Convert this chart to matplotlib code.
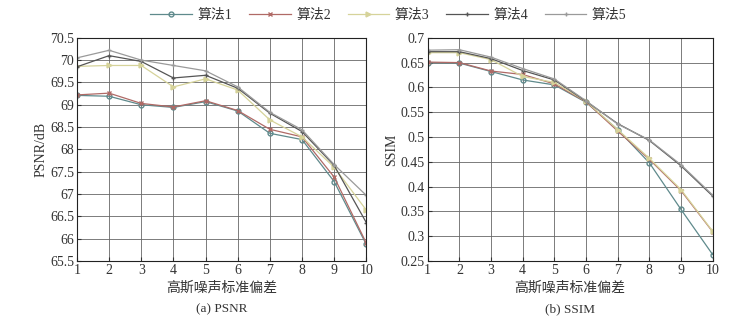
import numpy as np
import matplotlib
matplotlib.use('Agg')
import matplotlib.pyplot as plt

plt.rcParams['font.family'] = ['Liberation Serif', 'Noto Sans CJK SC']
plt.rcParams['axes.unicode_minus'] = False

x = np.arange(1, 11)
names = ['算法1', '算法2', '算法3', '算法4', '算法5']

psnr_1 = [69.21, 69.19, 69.00, 68.94, 69.07, 68.86, 68.36, 68.22, 67.28, 65.87]
psnr_2 = [69.22, 69.26, 69.03, 68.95, 69.09, 68.87, 68.45, 68.28, 67.38, 65.90]
psnr_3 = [69.86, 69.88, 69.88, 69.40, 69.58, 69.33, 68.66, 68.28, 67.60, 66.64]
psnr_4 = [69.85, 70.10, 69.97, 69.60, 69.66, 69.37, 68.81, 68.40, 67.64, 66.36]
psnr_5 = [70.05, 70.22, 70.00, 69.88, 69.76, 69.40, 68.83, 68.44, 67.66, 66.97]

ssim_1 = [0.650, 0.649, 0.632, 0.615, 0.605, 0.570, 0.515, 0.448, 0.354, 0.263]
ssim_2 = [0.651, 0.650, 0.633, 0.626, 0.607, 0.571, 0.512, 0.455, 0.392, 0.309]
ssim_3 = [0.670, 0.670, 0.656, 0.622, 0.610, 0.572, 0.515, 0.457, 0.394, 0.310]
ssim_4 = [0.672, 0.672, 0.658, 0.634, 0.615, 0.572, 0.527, 0.493, 0.442, 0.381]
ssim_5 = [0.675, 0.676, 0.661, 0.638, 0.617, 0.573, 0.526, 0.494, 0.444, 0.383]

colors = ['#5f8a8c', '#b06a66', '#d6d39a', '#555555', '#9a9a9a']
markers = ['o', 'x', '>', '+', '+']

fig = plt.figure(figsize=(7.4, 3.23), dpi=100)
ax1 = fig.add_axes([0.104, 0.192, 0.391, 0.691])
ax2 = fig.add_axes([0.578, 0.192, 0.385, 0.691])


def draw(ax, series, ylim, yticks, ylabel, caption):
    lines = []
    for s, c, m, n in zip(series, colors, markers, names):
        ln, = ax.plot(x, s, color=c, marker=m, markersize=3.5, linewidth=0.9,
                      markerfacecolor='none' if m == 'o' else c, label=n)
        lines.append(ln)
    ax.set_xlim(1, 10)
    ax.set_ylim(*ylim)
    ax.set_xticks(x)
    ax.set_yticks(yticks)
    ax.set_yticklabels([('%g' % v) for v in yticks])
    ax.grid(True, color='#666666', linewidth=0.6)
    ax.tick_params(direction='in', labelsize=10, colors='#333333', length=3, pad=2)
    for sp in ax.spines.values():
        sp.set_color('#222222')
        sp.set_linewidth(0.8)
    ax.set_ylabel(ylabel, fontsize=10, color='#333333', labelpad=2)
    ax.set_xlabel('高斯噪声标准偏差', fontsize=10, color='#333333', labelpad=3)
    ax.text(0.5, -0.19, caption, transform=ax.transAxes, ha='center', va='top',
            fontsize=9.5, color='#333333')
    return lines


lines = draw(ax1, [psnr_1, psnr_2, psnr_3, psnr_4, psnr_5], (65.5, 70.5),
             np.arange(65.5, 70.51, 0.5), 'PSNR/dB', '(a) PSNR')
draw(ax2, [ssim_1, ssim_2, ssim_3, ssim_4, ssim_5], (0.25, 0.7),
     np.arange(0.25, 0.701, 0.05), 'SSIM', '(b) SSIM')

fig.legend(handles=lines, loc='center', bbox_to_anchor=(0.525, 0.953), ncol=5,
           frameon=False, fontsize=10, handlelength=3, columnspacing=1.2,
           handletextpad=0.4, labelcolor='#333333')

fig.savefig('out.png', dpi=100)
